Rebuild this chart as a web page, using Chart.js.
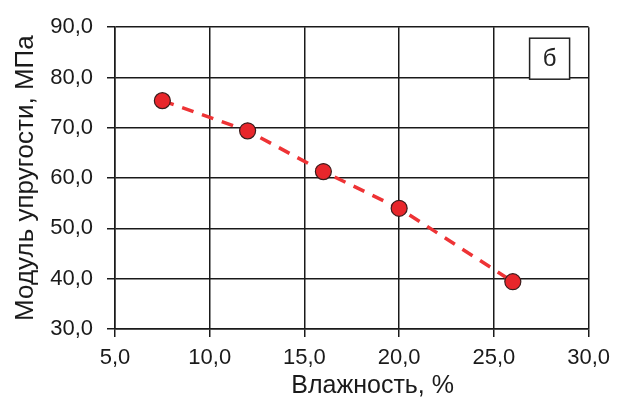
<!DOCTYPE html>
<html>
<head>
<meta charset="utf-8">
<script src="https://cdn.jsdelivr.net/npm/chart.js@4"></script>
<style>
  html, body { margin: 0; padding: 0; background: #fff; }
  #wrap { width: 618px; height: 403px; }
</style>
</head>
<body>
<div id="wrap"><canvas id="chart" width="618" height="403"></canvas></div>
<script>
/* ---------- DATA ---------- */
const moisture = [7.5, 12, 16, 20, 26];          // Влажность, %
const modulus = [75.4, 69.4, 61.3, 54.0, 39.4];  // Модуль упругости, МПа
const xTicks = [5, 10, 15, 20, 25, 30];
const yTicks = [30, 40, 50, 60, 70, 80, 90];
const panelLabel = 'б';

const fmt = v => Number(v).toFixed(1).replace('.', ',');
const $ = id => document.getElementById(id);

// small box with the panel letter in the top right corner
const panelBox = {
  id: 'panelBox',
  afterDraw(chart) {
    const ctx = chart.ctx;
    const a = chart.chartArea;
    const w = 40, h = 41;
    const x = a.right - 59, y = a.top + 11;
    ctx.save();
    ctx.fillStyle = '#fff';
    ctx.fillRect(x, y, w, h);
    ctx.strokeStyle = '#222';
    ctx.lineWidth = 1.5;
    ctx.strokeRect(x, y, w, h);
    ctx.fillStyle = '#222';
    ctx.font = '24px "Liberation Sans", Arial, sans-serif';
    ctx.textAlign = 'center';
    ctx.textBaseline = 'middle';
    ctx.fillText(panelLabel, x + w / 2, y + h / 2 + 1);
    ctx.restore();
  }
};

const points = moisture.map((x, i) => ({ x: x, y: modulus[i] }));

const config = {
  type: 'scatter',
  data: {
    datasets: [{
      data: points,
      showLine: true,
      borderColor: '#ee3335',
      borderWidth: 3.5,
      borderDash: [12, 9],
      pointRadius: 8,
      pointBackgroundColor: '#e8262b',
      pointBorderColor: '#3a1d1d',
      pointBorderWidth: 1.2
    }]
  },
  options: {
    responsive: false,
    animation: false,
    layout: { padding: { left: 0, right: 29, top: 25, bottom: 0 } },
    plugins: { legend: { display: false }, tooltip: { enabled: false } },
    scales: {
      x: {
        type: 'linear',
        min: 5, max: 30,
        afterBuildTicks: s => { s.ticks = xTicks.map(v => ({ value: v })); },
        afterFit: s => { s.height = 74; },
        grid: { color: '#1a1a1a', lineWidth: 1.5, tickLength: 8 },
        border: { color: '#1a1a1a', width: 1.5 },
        ticks: {
          color: '#1a1a1a',
          padding: 8,
          maxRotation: 0,
          font: { family: '"Liberation Sans", Arial, sans-serif', size: 22 },
          callback: v => fmt(v)
        },
        title: {
          display: true,
          text: '      Влажность, %',
          color: '#1a1a1a',
          padding: { top: 0, bottom: 2 },
          font: { family: '"Liberation Sans", Arial, sans-serif', size: 25 }
        }
      },
      y: {
        type: 'linear',
        min: 30, max: 90,
        afterBuildTicks: s => { s.ticks = yTicks.map(v => ({ value: v })); },
        afterFit: s => { s.width = 115; },
        grid: { color: '#1a1a1a', lineWidth: 1.5, tickLength: 8 },
        border: { color: '#1a1a1a', width: 1.5 },
        ticks: {
          color: '#1a1a1a',
          padding: 14,
          font: { family: '"Liberation Sans", Arial, sans-serif', size: 22 },
          callback: v => fmt(v)
        },
        title: {
          display: true,
          text: 'Модуль упругости, МПа',
          color: '#1a1a1a',
          padding: { top: 10, bottom: 0 },
          font: { family: '"Liberation Sans", Arial, sans-serif', size: 26 }
        }
      }
    }
  },
  plugins: [panelBox]
};

new Chart($('chart').getContext('2d'), config);
</script>
</body>
</html>
